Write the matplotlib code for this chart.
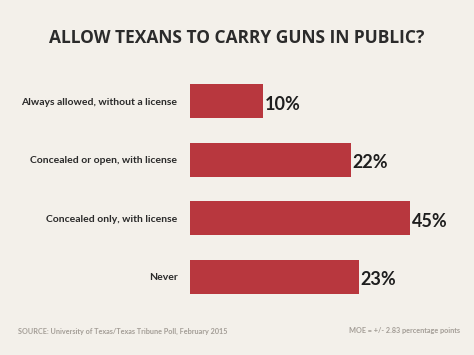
import matplotlib
matplotlib.use("Agg")
import matplotlib.pyplot as plt

categories = ["Always allowed, without a license",
              "Concealed or open, with license",
              "Concealed only, with license",
              "Never"]
values = [10, 22, 45, 23]
value_labels = ["10%", "22%", "45%", "23%"]
title = "ALLOW TEXANS TO CARRY GUNS IN PUBLIC?"
source = "SOURCE: University of Texas/Texas Tribune Poll, February 2015"
moe = "MOE = +/- 2.83 percentage points"

BG = "#f3f0ea"
BAR = "#b8373e"
W, H = 474, 355

fig = plt.figure(figsize=(W / 100, H / 100), dpi=100, facecolor=BG)
ax_left, ax_right = 190, 410
ax_top, ax_bot = 72, 306
ax = fig.add_axes([ax_left / W, 1 - ax_bot / H, (ax_right - ax_left) / W, (ax_bot - ax_top) / H])
ax.patch.set_alpha(0)

XMAX = 30
ys = list(range(len(categories)))
ax.barh(ys, values, height=0.58, color=BAR, clip_on=True)
ax.set_xlim(0, XMAX)
ax.set_ylim(len(categories) - 0.5, -0.5)
for s in ax.spines.values():
    s.set_visible(False)
ax.set_xticks([])
ax.set_yticks(ys)
ax.set_yticklabels(categories, fontsize=7.5, fontweight="bold", color="#2a2a2a", family="Lato")
ax.tick_params(axis="y", length=0, pad=9)

for y, v, lab in zip(ys, values, value_labels):
    ax.text(min(v, XMAX) + 0.2, y + 0.05, lab, ha="left", va="center", fontsize=13,
            fontweight="bold", color="#1e1e1e", family="Lato", clip_on=False)

fig.text(237 / W, 1 - 38 / H, title, ha="center", va="center", fontsize=12.5,
         fontweight="bold", color="#2b2b2b", family="Open Sans")
fig.text(18 / W, 1 - 331 / H, source, ha="left", va="center", fontsize=5.2,
         fontweight="bold", color="#a39d96", family="Lato")
fig.text(460 / W, 1 - 331 / H, moe, ha="right", va="center", fontsize=5.2,
         fontweight="bold", color="#a39d96", family="Lato")

fig.savefig("out.png", dpi=100, facecolor=BG)
